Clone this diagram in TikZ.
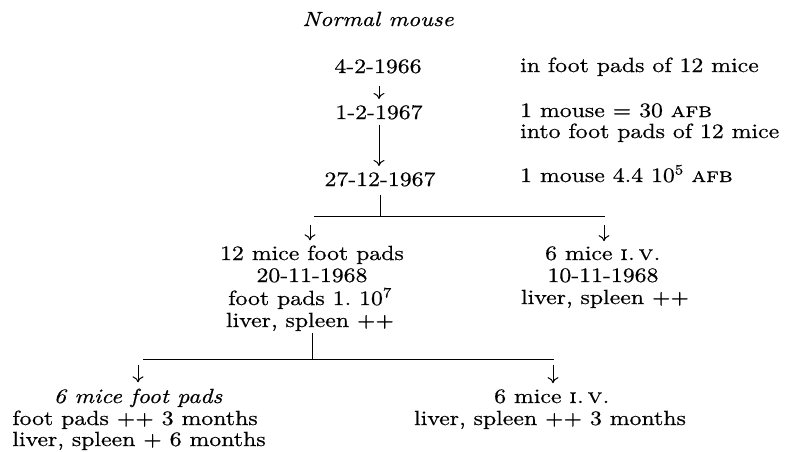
\documentclass[tikz,border=0pt]{standalone}
\usepackage{fontspec}
\setmainfont{lmroman10-regular.otf}[FakeStretch=1.16, FakeBold=0.6, ItalicFont=lmroman10-italic.otf, SmallCapsFont=lmromancaps10-regular.otf]
\usetikzlibrary{arrows.meta}
\begin{document}
\begin{tikzpicture}[x=1pt,y=-1pt,
  txt/.style={inner sep=0pt, anchor=base, font=\fontsize{20.5}{23}\selectfont},
  txtl/.style={txt, anchor=base west},
  ln/.style={line width=1pt},
  arr/.style={line width=1pt, -{To[length=6pt,width=11pt]}}]
\useasboundingbox (0,0) rectangle (786,451);
% top column
\node[txt] (title) at (378,26) {\itshape Normal mouse};
\node[txt] (d1) at (378,73) {4-2-1966};
\node[txt] (d2) at (379,119) {1-2-1967};
\node[txt] (d3) at (380,186) {27-12-1967};
% right notes
\node[txtl] (r1) at (520,72) {in foot pads of 12 mice};
\node[txtl] (r2) at (520,117) {1 mouse = 30 \textsc{afb}};
\node[txtl] (r3) at (520,138) {into foot pads of 12 mice};
\node[txtl] (r4) at (520,182) {1 mouse 4.4 10\textsuperscript{5} \textsc{afb}};
% middle left
\node[txt] (L1) at (312,260) {12 mice foot pads};
\node[txt] (L2) at (312,282) {20-11-1968};
\node[txt] (L3) at (310,305) {foot pads 1.\ 10\textsuperscript{7}};
\node[txt] (L4) at (310,327) {liver, spleen ++};
% middle right
\node[txt] (R1) at (603,260) {6 mice \textsc{i.\,v.}};
\node[txt] (R2) at (603,282) {10-11-1968};
\node[txt] (R3) at (605,304) {liver, spleen ++};
% bottom left
\node[txt] (B1) at (138,403) {\itshape 6 mice foot pads};
\node[txt] (B2) at (135,425) {foot pads ++ 3 months};
\node[txt] (B3) at (139,446) {liver, spleen + 6 months};
% bottom right
\node[txt] (C1) at (552,403) {6 mice \textsc{i.\,v.}};
\node[txt] (C2) at (550,425) {liver, spleen ++ 3 months};
% junction coordinates
\coordinate (j1) at (380,216);
\coordinate (hL) at (314,216);
\coordinate (hR) at (605,216);
\coordinate (ta) at (310,225);
\coordinate (tb) at (604,225);
\coordinate (j2) at (312,359);
\coordinate (bL) at (143,359);
\coordinate (bR) at (554,359);
\coordinate (ba) at (138,365);
\coordinate (bb) at (553,365);
% connectors
\draw[arr, shorten <=12pt, shorten >=6pt] (d1.south -| d2) -- (d2.north);
\draw[arr, shorten <=5pt, shorten >=6pt] (d2.south) -- (d2.south |- d3.north);
\draw[ln, shorten <=8pt] (d3.south) -- (j1);
\draw[ln] (hL) -- (hR);
\draw[arr, shorten >=5pt] (ta) -- (ta |- L1.north);
\draw[arr, shorten >=5pt] (tb) -- (tb |- R1.north);
\draw[ln, shorten <=2pt] (j2 |- L4.south) -- (j2);
\draw[ln] (bL) -- (bR);
\draw[arr, shorten >=6pt] (ba) -- (ba |- B1.north);
\draw[arr, shorten >=6pt] (bb) -- (bb |- C1.north);
\end{tikzpicture}
\end{document}
